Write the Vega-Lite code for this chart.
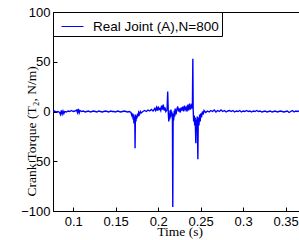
{
  "$schema": "https://vega.github.io/schema/vega-lite/v6.json",
  "width": 253,
  "height": 199,
  "autosize": {"type": "none"},
  "padding": {"left": 53, "top": 12, "right": -7, "bottom": 29},
  "background": "white",
  "config": {
    "view": {"stroke": "black", "strokeWidth": 1},
    "axis": {
      "grid": false,
      "domainColor": "black",
      "domainWidth": 1,
      "tickColor": "black",
      "tickSize": -4,
      "labelColor": "black",
      "labelFont": "Liberation Sans",
      "labelFontSize": 13,
      "titleFont": "Liberation Serif",
      "titleFontSize": 13.5,
      "titleFontWeight": "normal",
      "titleColor": "black"
    }
  },
  "data": {
    "values": [
      {"t":0.0762,"v":0},{"t":0.078,"v":0.5},{"t":0.080,"v":-0.5},{"t":0.082,"v":0},{"t":0.084,"v":-1},{"t":0.085,"v":-3},{"t":0.086,"v":1},{"t":0.087,"v":-2.5},{"t":0.088,"v":0.5},{"t":0.089,"v":-2},{"t":0.090,"v":0},{"t":0.092,"v":-0.5},{"t":0.094,"v":0.5},{"t":0.096,"v":0},{"t":0.098,"v":1},{"t":0.100,"v":0},{"t":0.102,"v":0.5},{"t":0.104,"v":1.5},{"t":0.105,"v":-1},{"t":0.106,"v":2.5},{"t":0.107,"v":-1.5},{"t":0.108,"v":1},{"t":0.110,"v":0},{"t":0.112,"v":0.5},{"t":0.114,"v":-0.5},{"t":0.116,"v":0},{"t":0.118,"v":0.5},{"t":0.120,"v":-0.5},{"t":0.122,"v":0},{"t":0.124,"v":0.5},{"t":0.126,"v":0},{"t":0.128,"v":-0.5},{"t":0.130,"v":0.5},{"t":0.132,"v":0},{"t":0.134,"v":-0.5},{"t":0.136,"v":0},{"t":0.138,"v":0.5},{"t":0.140,"v":0},{"t":0.142,"v":-0.5},{"t":0.144,"v":0.5},{"t":0.146,"v":0},{"t":0.148,"v":0},{"t":0.150,"v":-0.5},{"t":0.152,"v":0.5},{"t":0.154,"v":0},{"t":0.156,"v":-0.5},{"t":0.158,"v":0},{"t":0.160,"v":0.5},{"t":0.162,"v":0},{"t":0.164,"v":-0.5},{"t":0.166,"v":0},{"t":0.168,"v":-1},{"t":0.169,"v":-4},{"t":0.170,"v":-2},{"t":0.1705,"v":-8},{"t":0.171,"v":-3},{"t":0.1715,"v":-12},{"t":0.172,"v":-5},{"t":0.1725,"v":-9},{"t":0.1728,"v":-37},{"t":0.1732,"v":-3},{"t":0.1738,"v":-10},{"t":0.1745,"v":-4},{"t":0.175,"v":-7},{"t":0.1758,"v":-2},{"t":0.1765,"v":-5},{"t":0.177,"v":-1},{"t":0.178,"v":-3},{"t":0.179,"v":0},{"t":0.180,"v":-1.5},{"t":0.182,"v":0},{"t":0.184,"v":1},{"t":0.186,"v":0},{"t":0.188,"v":1.5},{"t":0.190,"v":0.5},{"t":0.192,"v":2},{"t":0.194,"v":0.5},{"t":0.196,"v":3},{"t":0.197,"v":1},{"t":0.198,"v":4},{"t":0.199,"v":1},{"t":0.200,"v":5},{"t":0.201,"v":2},{"t":0.202,"v":3},{"t":0.203,"v":1},{"t":0.204,"v":6},{"t":0.205,"v":2},{"t":0.206,"v":7},{"t":0.207,"v":1},{"t":0.208,"v":4},{"t":0.209,"v":0},{"t":0.2105,"v":2},{"t":0.2112,"v":20},{"t":0.2116,"v":8},{"t":0.212,"v":-3},{"t":0.2125,"v":-10},{"t":0.213,"v":-2},{"t":0.2135,"v":-8},{"t":0.214,"v":1},{"t":0.2145,"v":-6},{"t":0.215,"v":2},{"t":0.2155,"v":-4},{"t":0.216,"v":0},{"t":0.2168,"v":-8},{"t":0.2172,"v":-96},{"t":0.2176,"v":-2},{"t":0.2182,"v":-9},{"t":0.219,"v":1},{"t":0.2195,"v":-5},{"t":0.220,"v":3},{"t":0.221,"v":-3},{"t":0.222,"v":2},{"t":0.223,"v":5},{"t":0.224,"v":0},{"t":0.225,"v":3},{"t":0.226,"v":-1},{"t":0.227,"v":4},{"t":0.228,"v":1},{"t":0.229,"v":5},{"t":0.230,"v":0},{"t":0.231,"v":6},{"t":0.232,"v":2},{"t":0.233,"v":4},{"t":0.234,"v":0},{"t":0.235,"v":7},{"t":0.236,"v":1},{"t":0.237,"v":8},{"t":0.238,"v":2},{"t":0.239,"v":6},{"t":0.2403,"v":3},{"t":0.2408,"v":53},{"t":0.2412,"v":2},{"t":0.2418,"v":-10},{"t":0.2425,"v":-4},{"t":0.243,"v":-14},{"t":0.2436,"v":-6},{"t":0.2443,"v":-32},{"t":0.2448,"v":-8},{"t":0.2455,"v":-12},{"t":0.246,"v":-5},{"t":0.2467,"v":-48},{"t":0.2472,"v":-6},{"t":0.248,"v":-14},{"t":0.2488,"v":-3},{"t":0.2495,"v":-10},{"t":0.250,"v":-2},{"t":0.251,"v":-6},{"t":0.252,"v":0},{"t":0.253,"v":-3},{"t":0.254,"v":1},{"t":0.256,"v":-1},{"t":0.258,"v":0.5},{"t":0.260,"v":-0.5},{"t":0.262,"v":1},{"t":0.264,"v":0},{"t":0.266,"v":1.5},{"t":0.268,"v":-0.5},{"t":0.270,"v":1},{"t":0.272,"v":0},{"t":0.274,"v":1.5},{"t":0.276,"v":0},{"t":0.278,"v":1},{"t":0.280,"v":-0.5},{"t":0.282,"v":0.5},{"t":0.284,"v":1},{"t":0.286,"v":0},{"t":0.288,"v":1},{"t":0.290,"v":-0.5},{"t":0.292,"v":0.5},{"t":0.294,"v":0},{"t":0.296,"v":1},{"t":0.298,"v":-0.5},{"t":0.300,"v":0.5},{"t":0.302,"v":0},{"t":0.304,"v":1},{"t":0.306,"v":0},{"t":0.308,"v":0.5},{"t":0.310,"v":-0.5},{"t":0.312,"v":0.5},{"t":0.314,"v":0},{"t":0.316,"v":1},{"t":0.318,"v":0},{"t":0.320,"v":0.5},{"t":0.322,"v":-0.5},{"t":0.324,"v":0},{"t":0.326,"v":0.5},{"t":0.328,"v":-0.5},{"t":0.330,"v":0},{"t":0.332,"v":0.5},{"t":0.334,"v":-0.5},{"t":0.336,"v":0},{"t":0.338,"v":0.5},{"t":0.340,"v":-0.5},{"t":0.342,"v":0},{"t":0.344,"v":0.5},{"t":0.346,"v":0},{"t":0.348,"v":-0.5},{"t":0.350,"v":0},{"t":0.352,"v":0.5},{"t":0.354,"v":-1},{"t":0.356,"v":0},{"t":0.358,"v":1},{"t":0.360,"v":-0.5},{"t":0.362,"v":0.5},{"t":0.364,"v":0},{"t":0.366,"v":0.5},{"t":0.368,"v":0},{"t":0.370,"v":0.5},{"t":0.372,"v":-0.5},{"t":0.374,"v":0}
    ]
  },
  "transform": [{"calculate": "'Real Joint (A),N=800'", "as": "series"}],
  "mark": {"type": "line", "strokeWidth": 1.4, "clip": true, "interpolate": "linear"},
  "encoding": {
    "x": {
      "field": "t", "type": "quantitative",
      "scale": {"domain": [0.0762, 0.374], "nice": false, "zero": false},
      "axis": {
        "title": "Time (s)",
        "values": [0.1, 0.15, 0.2, 0.25, 0.3, 0.35],
        "format": ".2~f",
        "labelPadding": 8,
        "titleX": 126.6,
        "titleY": 20.5,
        "titleBaseline": "middle",
        "titleAnchor": null
      }
    },
    "y": {
      "field": "v", "type": "quantitative",
      "scale": {"domain": [-100, 100], "nice": false},
      "axis": {
        "title": "Crank Torque (T₂, N/m)",
        "values": [-100, -50, 0, 50, 100],
        "format": "d",
        "labelPadding": 7,
        "titleX": -22,
        "titleY": 119,
        "titleBaseline": "middle",
        "titleAlign": "center",
        "titleAngle": -90
      }
    },
    "color": {
      "field": "series", "type": "nominal",
      "scale": {"range": ["#0000ff"]},
      "legend": {
        "title": null,
        "orient": "none",
        "legendX": 0,
        "legendY": 0,
        "fillColor": "white",
        "strokeColor": "black",
        "cornerRadius": 0,
        "padding": 3,
        "symbolType": "stroke",
        "symbolSize": 484,
        "symbolStrokeWidth": 1,
        "symbolOffset": 5,
        "labelOffset": 9,
        "labelFont": "Liberation Sans",
        "labelFontSize": 13.5,
        "labelColor": "black",
        "labelExpr": "datum.label + '\u00a0\u00a0\u00a0'"
      }
    }
  }
}
